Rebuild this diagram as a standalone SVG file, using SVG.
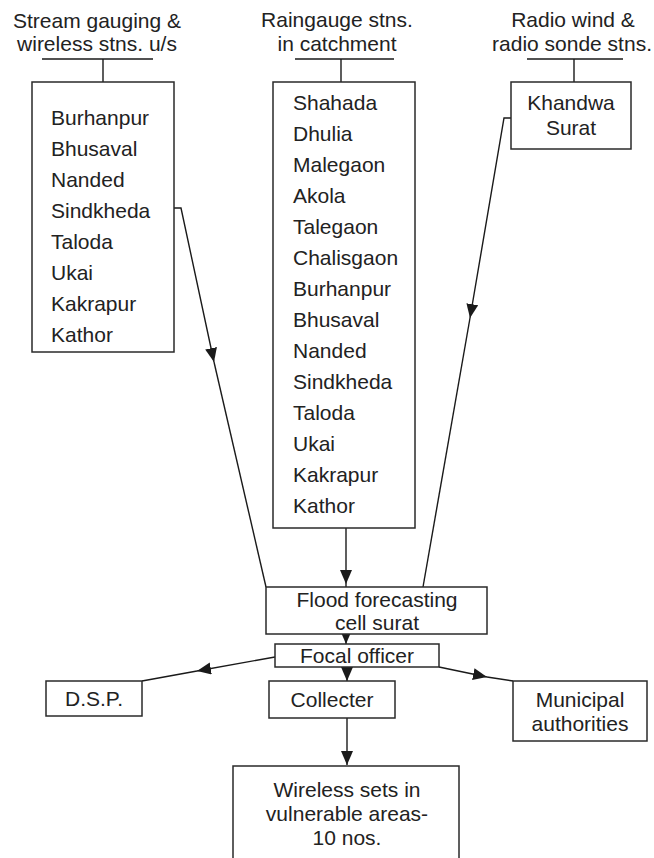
<svg xmlns="http://www.w3.org/2000/svg" width="654" height="858" viewBox="0 0 654 858">
<defs>
<marker id="ah" markerUnits="userSpaceOnUse" markerWidth="15" markerHeight="13" refX="14" refY="6" orient="auto" viewBox="0 0 15 13">
<path d="M0,0 L14,6 L0,12 z" fill="#1a1a1a"/>
</marker>
</defs>
<style>
text{font-family:"Liberation Sans",Arial,sans-serif;font-size:21px;fill:#222}
.c{text-anchor:middle}
.box{fill:#fff;stroke:#2a2a2a;stroke-width:1.5}
.ln{fill:none;stroke:#1a1a1a;stroke-width:1.4}
.ar{fill:none;stroke:#1a1a1a;stroke-width:1.4;marker-end:url(#ah)}
</style>
<rect width="654" height="858" fill="#fff"/>

<g id="header-stream">
<text class="c" x="97" y="28">Stream gauging &amp;</text>
<text class="c" x="97" y="51">wireless stns. u/s</text>
</g>
<g id="header-rain">
<text class="c" x="337" y="27">Raingauge stns.</text>
<text class="c" x="337" y="51">in catchment</text>
</g>
<g id="header-radio">
<text class="c" x="573" y="27">Radio wind &amp;</text>
<text class="c" x="572" y="51">radio sonde stns.</text>
</g>

<g id="connectors">
<path class="ln" d="M42,59 H153 M103,59 V82"/>
<path class="ln" d="M295,59 H394 M341,59 V82"/>
<path class="ln" d="M527,59 H623 M574,59 V82"/>
<path class="ar" d="M174,208 H181 L214,362"/>
<path class="ln" d="M214,362 L266,587"/>
<path class="ar" d="M511,118 H504 L470,318"/>
<path class="ln" d="M470,318 L423,587"/>
<path class="ar" d="M346,528 V584"/>
<path class="ln" d="M346,584 V587"/>
<path class="ar" d="M346,634 V644"/>
<path class="ar" d="M347,667 V681"/>
<path class="ar" d="M347,718 V765"/>
<path class="ar" d="M275,657 L197,671"/>
<path class="ln" d="M197,671 L142,681"/>
<path class="ar" d="M439,667 L487,677"/>
<path class="ln" d="M487,677 L513,681"/>
</g>

<g id="stream-stations">
<rect class="box" x="32" y="82" width="142" height="270"/>
<text x="51" y="125">Burhanpur</text>
<text x="51" y="156">Bhusaval</text>
<text x="51" y="187">Nanded</text>
<text x="51" y="218">Sindkheda</text>
<text x="51" y="249">Taloda</text>
<text x="51" y="280">Ukai</text>
<text x="51" y="311">Kakrapur</text>
<text x="51" y="342">Kathor</text>
</g>

<g id="rain-stations">
<rect class="box" x="273" y="82" width="142" height="446"/>
<text x="293" y="110">Shahada</text>
<text x="293" y="141">Dhulia</text>
<text x="293" y="172">Malegaon</text>
<text x="293" y="203">Akola</text>
<text x="293" y="234">Talegaon</text>
<text x="293" y="265">Chalisgaon</text>
<text x="293" y="296">Burhanpur</text>
<text x="293" y="327">Bhusaval</text>
<text x="293" y="358">Nanded</text>
<text x="293" y="389">Sindkheda</text>
<text x="293" y="420">Taloda</text>
<text x="293" y="451">Ukai</text>
<text x="293" y="482">Kakrapur</text>
<text x="293" y="513">Kathor</text>
</g>

<g id="radio-stations">
<rect class="box" x="511" y="82" width="120" height="67"/>
<text class="c" x="571" y="110">Khandwa</text>
<text class="c" x="571" y="135">Surat</text>
</g>

<g id="flood-cell">
<rect class="box" x="266" y="587" width="221" height="47"/>
<text class="c" x="377" y="607">Flood forecasting</text>
<text class="c" x="377" y="630">cell surat</text>
</g>

<g id="focal-officer">
<rect class="box" x="275" y="644" width="164" height="23"/>
<text class="c" x="357" y="663">Focal officer</text>
</g>

<g id="dsp">
<rect class="box" x="46" y="681" width="96" height="35"/>
<text class="c" x="94" y="706">D.S.P.</text>
</g>

<g id="collecter">
<rect class="box" x="269" y="681" width="126" height="37"/>
<text class="c" x="332" y="707">Collecter</text>
</g>

<g id="municipal">
<rect class="box" x="513" y="681" width="134" height="60"/>
<text class="c" x="580" y="707">Municipal</text>
<text class="c" x="580" y="731">authorities</text>
</g>

<g id="wireless-sets">
<rect class="box" x="233" y="766" width="226" height="100"/>
<text class="c" x="347" y="797">Wireless sets in</text>
<text class="c" x="347" y="821">vulnerable areas-</text>
<text class="c" x="347" y="845">10 nos.</text>
</g>
</svg>
